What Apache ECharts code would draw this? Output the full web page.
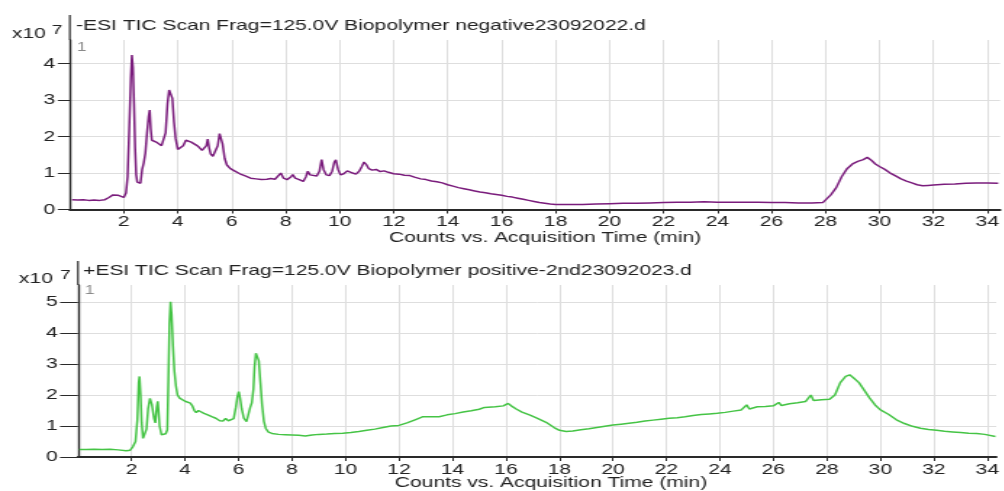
<!DOCTYPE html>
<html>
<head>
<meta charset="utf-8">
<script src="https://cdn.jsdelivr.net/npm/echarts@6/dist/echarts.min.js"></script>
<style>
html,body{margin:0;padding:0;background:#fff;overflow:hidden;}
#wrap{width:1004px;height:491px;overflow:hidden;}
#chart{height:491px;transform-origin:0 0;}
</style>
</head>
<body>
<div id="wrap"><div id="chart"></div></div>
<script>
// ---- data (time in min, counts in x10^7) ----
const negTitle = "-ESI TIC Scan Frag=125.0V Biopolymer negative23092022.d";
const posTitle = "+ESI TIC Scan Frag=125.0V Biopolymer positive-2nd23092023.d";
const xName = "Counts vs. Acquisition Time (min)";
const xTicks = [2,4,6,8,10,12,14,16,18,20,22,24,26,28,30,32,34];
const yTicksNeg = [0,1,2,3,4];
const yTicksPos = [0,1,2,3,4,5];

const negScan = [
[0.08,0.27],[0.3,0.26],[0.5,0.27],[0.7,0.25],[0.9,0.26],[1.1,0.25],[1.3,0.27],[1.45,0.33],[1.6,0.40],[1.7,0.43],
[1.8,0.39],[1.9,0.36],[2.0,0.33],[2.08,0.45],[2.14,0.9],[2.2,2.2],[2.26,3.6],[2.3,4.24],[2.34,3.9],[2.38,2.9],
[2.42,1.7],[2.46,0.95],[2.5,0.75],[2.56,0.7],[2.62,0.72],[2.68,1.1],[2.74,1.28],[2.8,1.55],[2.86,2.1],[2.92,2.55],
[2.96,2.73],[3.0,2.2],[3.04,1.9],[3.12,1.87],[3.2,1.85],[3.3,1.8],[3.4,1.75],[3.48,1.74],[3.55,2.1],[3.62,2.9],
[3.68,3.28],[3.74,3.3],[3.8,3.05],[3.86,2.4],[3.92,1.95],[4.0,1.65],[4.1,1.62],[4.2,1.75],[4.3,1.9],[4.4,1.88],
[4.5,1.85],[4.6,1.8],[4.7,1.76],[4.8,1.7],[4.9,1.62],[5.0,1.6],[5.06,1.75],[5.11,1.93],[5.16,1.7],[5.22,1.52],
[5.3,1.46],[5.4,1.48],[5.48,1.75],[5.55,2.08],[5.6,2.1],[5.66,1.8],[5.74,1.4],[5.82,1.22],[5.95,1.12],[6.1,1.06],
[6.3,0.98],[6.5,0.92],[6.7,0.86],[6.9,0.84],[7.1,0.82],[7.3,0.83],[7.45,0.85],[7.52,0.9],[7.6,0.83],[7.7,0.82],
[7.82,1.0],[7.92,0.86],[8.05,0.82],[8.2,0.9],[8.26,0.96],[8.35,0.86],[8.5,0.82],[8.65,0.77],[8.75,0.9],[8.82,1.05],
[8.9,0.95],[9.0,0.9],[9.15,0.92],[9.25,1.05],[9.33,1.37],[9.4,1.1],[9.5,0.95],[9.62,0.93],[9.72,1.05],[9.8,1.3],
[9.86,1.36],[9.94,1.1],[10.03,0.95],[10.15,0.98],[10.28,1.06],[10.36,1.09],[10.48,1.0],[10.6,0.97],[10.72,1.05],[10.82,1.18],
[10.9,1.3],[10.98,1.24],[11.08,1.12],[11.2,1.08],[11.35,1.1],[11.5,1.04],[11.65,1.06],[11.8,1.02],[12.0,0.98],[12.2,0.97],
[12.4,0.94],[12.5,0.98],[12.6,0.93],[12.8,0.88],[13.0,0.84],[13.2,0.82],[13.4,0.78],[13.5,0.8],[13.6,0.76],[13.8,0.73],
[14.0,0.68],[14.1,0.7],[14.2,0.64],[14.4,0.6],[14.6,0.57],[14.8,0.54],[15.0,0.51],[15.2,0.48],[15.4,0.46],[15.6,0.43],
[15.8,0.41],[16.0,0.39],[16.2,0.36],[16.4,0.34],[16.6,0.31],[16.8,0.28],[17.0,0.25],[17.2,0.22],[17.4,0.19],[17.6,0.17],
[17.8,0.15],[18.0,0.14],[18.5,0.14],[19.0,0.14],[19.5,0.15],[20.0,0.16],[20.5,0.17],[21.0,0.17],[21.5,0.18],[22.0,0.19],
[22.5,0.2],[23.0,0.2],[23.5,0.21],[24.0,0.2],[24.5,0.2],[25.0,0.2],[25.5,0.2],[26.0,0.19],[26.5,0.19],[27.0,0.18],
[27.5,0.18],[27.9,0.19],[28.0,0.21],[28.2,0.4],[28.4,0.6],[28.6,0.9],[28.8,1.12],[29.0,1.25],[29.2,1.32],[29.4,1.37],
[29.55,1.43],[29.7,1.35],[29.85,1.25],[30.0,1.18],[30.2,1.1],[30.4,1.0],[30.6,0.92],[30.8,0.84],[31.0,0.78],[31.2,0.73],
[31.4,0.68],[31.6,0.65],[31.8,0.66],[32.0,0.67],[32.4,0.69],[32.8,0.7],[33.2,0.72],[33.6,0.73],[34.0,0.73],[34.4,0.72]
];

const posScan = [
[0.05,0.24],[0.3,0.24],[0.6,0.25],[0.9,0.24],[1.2,0.25],[1.5,0.23],[1.8,0.2],[1.95,0.22],[2.05,0.33],[2.15,0.5],
[2.22,1.2],[2.27,2.4],[2.3,2.6],[2.34,2.0],[2.38,1.1],[2.43,0.6],[2.5,0.55],[2.56,0.9],[2.62,1.55],[2.69,1.89],
[2.76,1.7],[2.84,1.25],[2.89,1.1],[2.94,1.6],[2.98,1.8],[3.01,1.5],[3.05,1.0],[3.12,0.72],[3.2,0.7],[3.28,0.75],
[3.34,0.88],[3.38,2.5],[3.42,4.3],[3.46,5.01],[3.5,4.6],[3.55,3.6],[3.6,2.8],[3.66,2.3],[3.72,2.0],[3.8,1.9],
[3.9,1.84],[4.0,1.8],[4.1,1.78],[4.2,1.74],[4.27,1.66],[4.35,1.5],[4.42,1.43],[4.5,1.5],[4.6,1.46],[4.71,1.41],
[4.85,1.36],[5.0,1.3],[5.15,1.25],[5.3,1.17],[5.42,1.16],[5.52,1.24],[5.62,1.17],[5.72,1.13],[5.82,1.24],[5.9,1.6],
[5.96,1.95],[6.01,2.11],[6.06,1.9],[6.12,1.55],[6.2,1.25],[6.3,1.14],[6.38,1.2],[6.44,1.6],[6.5,1.75],[6.56,2.2],
[6.6,2.9],[6.65,3.35],[6.7,3.4],[6.76,3.1],[6.82,2.4],[6.88,1.7],[6.95,1.15],[7.02,0.92],[7.12,0.8],[7.25,0.76],
[7.5,0.73],[7.75,0.72],[8.0,0.71],[8.25,0.70],[8.5,0.68],[8.75,0.71],[9.0,0.73],[9.3,0.74],[9.6,0.76],[9.9,0.77],
[10.2,0.79],[10.5,0.82],[10.8,0.86],[11.1,0.9],[11.4,0.95],[11.7,1.0],[12.0,1.02],[12.3,1.1],[12.6,1.2],[12.9,1.3],
[13.2,1.3],[13.5,1.3],[13.8,1.36],[14.1,1.4],[14.4,1.45],[14.7,1.49],[15.0,1.54],[15.2,1.6],[15.3,1.56],[15.6,1.62],
[15.9,1.65],[16.08,1.73],[16.2,1.65],[16.4,1.54],[16.6,1.45],[16.9,1.35],[17.2,1.24],[17.5,1.12],[17.8,0.95],[18.0,0.86],
[18.25,0.82],[18.5,0.84],[18.8,0.88],[19.1,0.91],[19.4,0.95],[19.7,0.99],[20.0,1.03],[20.3,1.06],[20.6,1.09],[20.9,1.12],
[21.2,1.16],[21.5,1.19],[21.8,1.22],[22.1,1.25],[22.4,1.27],[22.7,1.3],[23.0,1.34],[23.3,1.37],[23.6,1.39],[23.9,1.41],
[24.2,1.44],[24.5,1.48],[24.8,1.52],[25.0,1.68],[25.1,1.55],[25.4,1.62],[25.7,1.63],[26.0,1.65],[26.2,1.76],[26.3,1.66],
[26.6,1.72],[26.9,1.75],[27.2,1.79],[27.4,2.0],[27.5,1.82],[27.8,1.85],[28.1,1.86],[28.3,2.0],[28.5,2.4],[28.7,2.6],
[28.85,2.65],[29.0,2.55],[29.2,2.4],[29.4,2.15],[29.6,1.9],[29.8,1.68],[30.0,1.52],[30.3,1.38],[30.6,1.2],[30.9,1.08],
[31.2,0.99],[31.5,0.93],[31.8,0.89],[32.1,0.86],[32.4,0.83],[32.7,0.81],[33.0,0.79],[33.3,0.77],[33.6,0.76],[33.9,0.73],
[34.3,0.66]
];

// ---- layout (screen image is horizontally stretched; draw in unstretched space then scale) ----
const S = 1.45;
const W = 1004 / S;
const chartEl = document.getElementById('chart');
chartEl.style.width = W + 'px';
chartEl.style.transform = 'scaleX(' + S + ')';

const FONT = 'Liberation Sans, Arial, sans-serif';
const TXT = '#222';
const AX = '#2a2a2a';
const GRIDC = '#dedede';

function xAxisCfg(gridIndex, max) {
  return {
    type: 'value', gridIndex: gridIndex, min: 0, max: max, interval: 2,
    axisLine: {show: true, onZero: false, lineStyle: {color: AX, width: 2}},
    axisTick: {show: true, length: 4, customValues: xTicks, lineStyle: {color: AX, width: 1}},
    axisLabel: {customValues: xTicks, margin: 5, color: TXT, fontFamily: FONT, fontSize: 14.5},
    splitLine: {show: true, lineStyle: {color: GRIDC, width: 1}}
  };
}
function yAxisCfg(gridIndex, max, ticks, tickLen, margin) {
  return {
    type: 'value', gridIndex: gridIndex, min: 0, max: max, interval: 1,
    axisLine: {show: true, lineStyle: {color: AX, width: 1.4}},
    axisTick: {show: true, length: tickLen, customValues: ticks, lineStyle: {color: AX, width: 1}},
    axisLabel: {customValues: ticks, margin: margin, color: TXT, fontFamily: FONT, fontSize: 14.5},
    splitLine: {show: true, lineStyle: {color: GRIDC, width: 1}}
  };
}

const chart = echarts.init(chartEl, null, {renderer: 'canvas'});
const topLeft = 69.8 / S, botLeft = 78 / S;
const option = {
  animation: false,
  backgroundColor: '#fff',
  grid: [
    {left: topLeft, top: 40, width: W - topLeft, height: 169.5},
    {left: botLeft, top: 285, width: W - botLeft, height: 172}
  ],
  xAxis: [xAxisCfg(0, 34.47), xAxisCfg(1, 34.33)],
  yAxis: [yAxisCfg(0, 4.65, yTicksNeg, 8.3, 10), yAxisCfg(1, 5.55, yTicksPos, 12.4, 14)],
  series: [
    {type: 'line', xAxisIndex: 0, yAxisIndex: 0, data: negScan, showSymbol: false, smooth: false,
      lineStyle: {color: '#7a1c7c', width: 1.5}},
    {type: 'line', xAxisIndex: 1, yAxisIndex: 1, data: posScan, showSymbol: false, smooth: false,
      lineStyle: {color: '#45c445', width: 1.5}}
  ],
  graphic: [
    {type: 'line', shape: {x1: topLeft, y1: 15, x2: topLeft, y2: 40}, style: {stroke: AX, lineWidth: 1.2}},
    {type: 'line', shape: {x1: botLeft, y1: 261, x2: botLeft, y2: 285}, style: {stroke: AX, lineWidth: 1.2}},
    {type: 'text', x: 76 / S, y: 26, style: {text: negTitle, fill: TXT, font: '14.5px ' + FONT, verticalAlign: 'middle'}},
    {type: 'text', x: 83 / S, y: 271, style: {text: posTitle, fill: TXT, font: '14.5px ' + FONT, verticalAlign: 'middle'}},
    {type: 'text', x: 12 / S, y: 34, style: {text: 'x10', fill: TXT, font: '14.5px ' + FONT, verticalAlign: 'middle'}},
    {type: 'text', x: 52 / S, y: 30, style: {text: '7', fill: TXT, font: '13px ' + FONT, verticalAlign: 'middle'}},
    {type: 'text', x: 19 / S, y: 279, style: {text: 'x10', fill: TXT, font: '14.5px ' + FONT, verticalAlign: 'middle'}},
    {type: 'text', x: 60 / S, y: 275, style: {text: '7', fill: TXT, font: '13px ' + FONT, verticalAlign: 'middle'}},
    {type: 'text', x: 77 / S, y: 48, style: {text: '1', fill: '#8a8a8a', font: '12px ' + FONT, verticalAlign: 'middle'}},
    {type: 'text', x: 85 / S, y: 291, style: {text: '1', fill: '#8a8a8a', font: '12px ' + FONT, verticalAlign: 'middle'}},
    {type: 'text', x: 545 / S, y: 238, style: {text: xName, fill: TXT, font: '14.5px ' + FONT, align: 'center', verticalAlign: 'middle'}},
    {type: 'text', x: 551 / S, y: 483, style: {text: xName, fill: TXT, font: '14.5px ' + FONT, align: 'center', verticalAlign: 'middle'}}
  ]
};
chart.setOption(option);
</script>
</body>
</html>
